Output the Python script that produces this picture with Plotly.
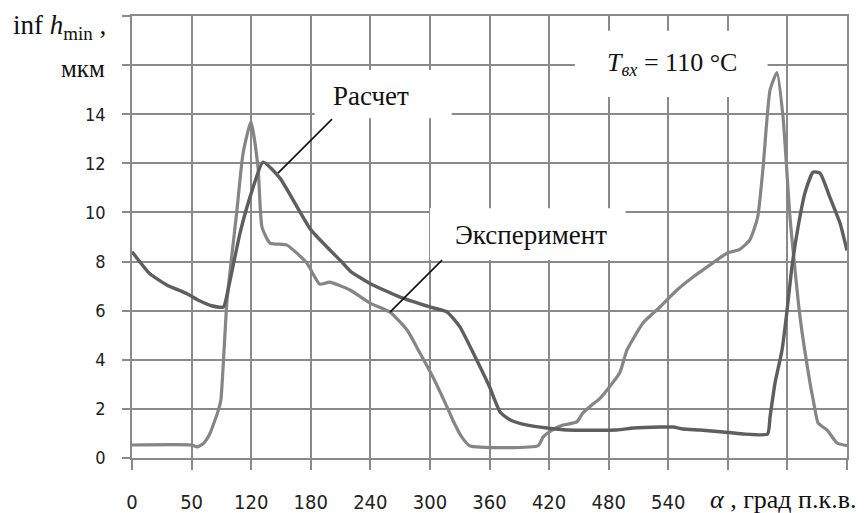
import plotly.graph_objects as go

# --- data ---
calc_alpha = [0, 18, 35, 55, 68, 80, 92, 97, 109, 121, 132, 149, 180, 212, 220, 240, 270, 300,
              317, 330, 347, 360, 371, 381, 398, 418, 438, 488, 505, 532, 545, 555, 572, 595,
              615, 640, 642.5, 647.5, 654.6, 659.6, 664.6, 670.7, 677.7, 685.8, 692.8, 702.9, 713, 720]
calc_h = [8.4, 7.5, 7.05, 6.7, 6.4, 6.2, 6.15, 6.9, 9.2, 10.9, 12.05, 11.4, 9.3, 7.95, 7.6, 7.1, 6.55, 6.15,
          5.95, 5.35, 4.0, 2.9, 1.85, 1.55, 1.34, 1.22, 1.14, 1.14, 1.22, 1.26, 1.26, 1.18, 1.14, 1.06,
          0.98, 0.98, 1.67, 3.05, 4.4, 6.0, 7.8, 9.4, 10.8, 11.64, 11.6, 10.6, 9.56, 8.45]

exp_alpha = [0, 60, 66, 72, 78.5, 87, 89.5, 95.7, 105.7, 111.8, 119.8, 126.9, 130.9, 139, 156, 176, 189,
             199, 219.5, 239.7, 259.8, 277, 290, 303, 320, 323, 332, 340, 409, 414, 423, 434, 448, 454,
             463, 471, 491, 498.5, 514.6, 531.7, 548.8, 565, 582, 599, 612, 622, 630, 635.5, 642.5,
             649.5, 655.6, 662.6, 672.7, 682.8, 686, 691, 700, 710, 720]
exp_h = [0.53, 0.53, 0.45, 0.6, 1.0, 1.95, 2.36, 6.43, 10.1, 12.4, 13.7, 11.84, 9.4, 8.75, 8.67, 7.94, 7.08,
         7.16, 6.84, 6.31, 5.94, 5.21, 4.27, 3.3, 1.83, 1.55, 0.86, 0.5, 0.5, 0.86, 1.14, 1.34, 1.47, 1.83,
         2.16, 2.42, 3.46, 4.4, 5.5, 6.15, 6.84, 7.37, 7.86, 8.34, 8.5, 8.87, 9.8, 11.84, 14.98,
         15.7, 13.88, 9.8, 5.74, 3.05, 2.36, 1.42, 1.14, 0.61, 0.5]

x_tickvals = list(range(0, 721, 60))
x_ticktext = ["0", "50", "120", "180", "240", "300", "360", "420", "480", "540", "", "", ""]
y_tickvals = list(range(0, 19, 2))
y_ticktext = ["0", "2", "4", "6", "8", "10", "12", "14", "", ""]

calc_label = "Расчет"
exp_label = "Эксперимент"
temp_label = "<i>T</i><sub><i>вх</i></sub> = 110 °C"
y_title_1 = "inf <i>h</i><sub>min</sub> ,"
y_title_2 = "мкм"
x_title = "<i>α</i> , град п.к.в."

# label boxes (x0, x1, y0, y1) in data units and leader lines
boxes = [(184, 322, 13.84, 15.8), (300, 497, 8.06, 10.17), (446, 640, 14.7, 17.4)]
leaders = [(201.4, 13.8, 147, 11.6), (312.2, 8.06, 259.8, 5.94)]

GRID = "#8a8a8a"
SERIF = "Liberation Serif, Times New Roman, serif"
NARROW = "DejaVu Sans Condensed, Liberation Sans Narrow, sans-serif"

fig = go.Figure()
fig.add_trace(go.Scatter(x=exp_alpha, y=exp_h, mode="lines",
                         line=dict(color="#858585", width=3.2, shape="spline", smoothing=0.5),
                         showlegend=False, hoverinfo="skip"))
fig.add_trace(go.Scatter(x=calc_alpha, y=calc_h, mode="lines",
                         line=dict(color="#5e5e5e", width=3.4, shape="spline", smoothing=0.5),
                         showlegend=False, hoverinfo="skip"))

for (x0, x1, y0, y1) in boxes:
    fig.add_shape(type="rect", x0=x0, x1=x1, y0=y0, y1=y1, xref="x", yref="y",
                  fillcolor="white", line=dict(width=0), layer="between")
for (xa, ya, xb, yb) in leaders:
    fig.add_shape(type="line", x0=xa, y0=ya, x1=xb, y1=yb, xref="x", yref="y",
                  line=dict(color="#111111", width=1.6), layer="above")

fig.add_annotation(x=240.7, y=14.73, text=calc_label, showarrow=False, yanchor="middle",
                   font=dict(family=SERIF, size=27, color="#111"))
fig.add_annotation(x=401.8, y=9.08, text=exp_label, showarrow=False, yanchor="middle",
                   font=dict(family=SERIF, size=27, color="#111"))
fig.add_annotation(x=476, y=16.04, text=temp_label, showarrow=False, xanchor="left", yanchor="middle",
                   font=dict(family=SERIF, size=26, color="#111"))
fig.add_annotation(x=-0.0336, xref="paper", y=0.975, yref="paper", text=y_title_1, showarrow=False,
                   xanchor="right", yanchor="middle", font=dict(family=SERIF, size=27, color="#111"))
fig.add_annotation(x=-0.035, xref="paper", y=0.882, yref="paper", text=y_title_2, showarrow=False,
                   xanchor="right", yanchor="middle", font=dict(family=SERIF, size=25, color="#111"))
fig.add_annotation(x=655.6, y=-0.095, yref="paper", text=x_title, showarrow=False, yanchor="middle",
                   font=dict(family=SERIF, size=26, color="#111"))

fig.update_xaxes(range=[0, 720], tickvals=x_tickvals, ticktext=x_ticktext, showgrid=True,
                 gridcolor=GRID, gridwidth=1.5, zeroline=False, showline=True, mirror=True,
                 linecolor=GRID, linewidth=1.5, ticks="outside", ticklen=10, tickcolor=GRID,
                 tickwidth=1.5, ticklabelstandoff=15, automargin=False,
                 tickfont=dict(family=NARROW, size=20, color="#222"))
fig.update_yaxes(range=[0, 18], tickvals=y_tickvals, ticktext=y_ticktext, showgrid=True,
                 gridcolor=GRID, gridwidth=1.5, zeroline=False, showline=True, mirror=True,
                 linecolor=GRID, linewidth=1.5, ticks="outside", ticklen=8, tickcolor=GRID,
                 tickwidth=1.5, ticklabelstandoff=13, automargin=False,
                 tickfont=dict(family=NARROW, size=18, color="#222"))

# the page adds an 8 px body margin, so the figure is 8 px smaller and margins shifted
fig.update_layout(width=856, height=505, margin=dict(l=124, r=17, t=8, b=55),
                  paper_bgcolor="white", plot_bgcolor="white")
fig.write_html("out.html")
